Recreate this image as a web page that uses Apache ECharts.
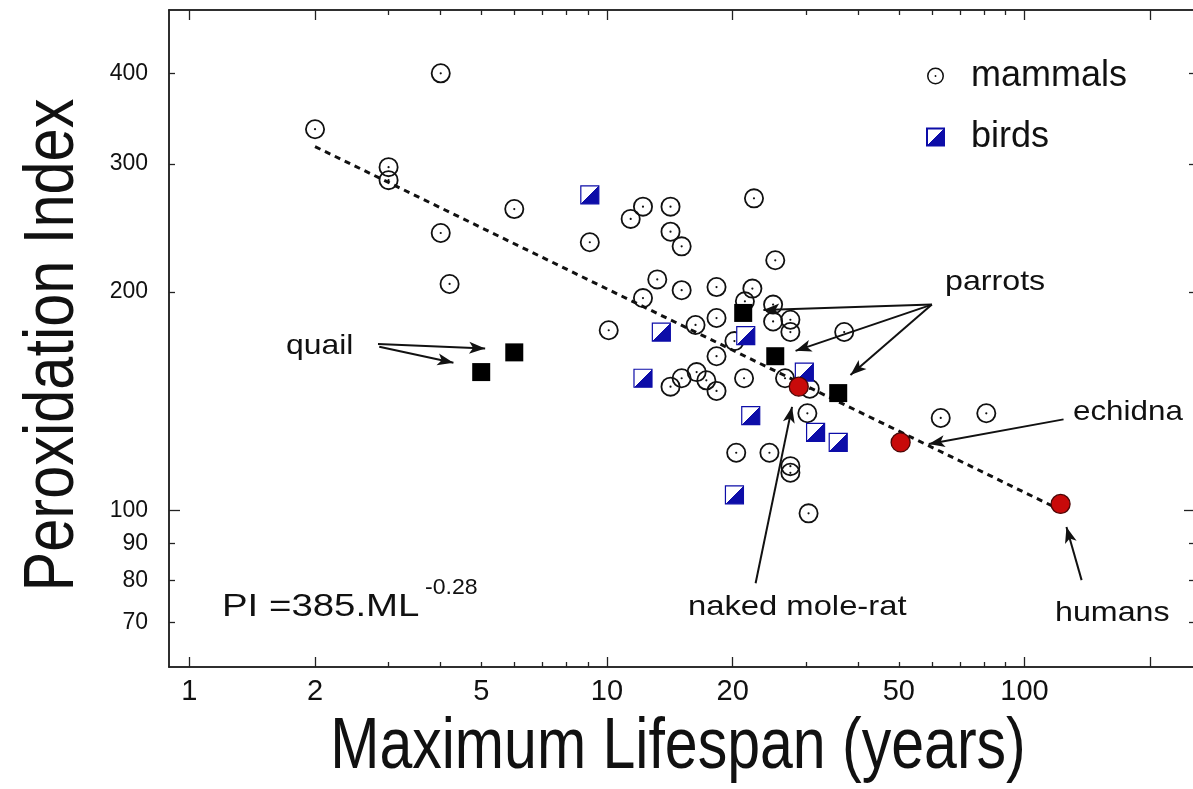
<!DOCTYPE html>
<html>
<head>
<meta charset="utf-8">
<script src="https://cdn.jsdelivr.net/npm/echarts@6/dist/echarts.min.js"></script>
<style>
  html, body { margin: 0; padding: 0; background: #fff; }
  #chart { width: 1193px; height: 789px; }
</style>
</head>
<body>
<div id="chart"></div>
<script>
// Peroxidation index vs maximum lifespan, log-log

const mammalLifespan = [4, 2, 3, 3, 6, 4, 4.2, 9.1, 12.2, 11.4, 14.2, 14.2, 15.1, 22.5, 25.3,
  13.2, 12.2, 15.1, 18.3, 22.3, 21.4, 25, 27.5, 25, 27.5, 18.3, 16.3, 10.1, 37, 20.2,
  18.3, 14.2, 15.1, 16.4, 17.3, 18.3, 21.3, 26.7, 30.6, 30.2, 20.4, 24.5, 27.5, 27.5, 30.4, 63, 81];
const mammalPI = [400, 335, 297, 285, 260, 241, 205, 234, 262, 252, 262, 242, 231, 269, 221,
  208, 196, 201, 203, 202, 194, 192, 183, 182, 176, 184, 180, 177, 176, 171,
  163, 148, 152, 155, 151, 146, 152, 152, 147, 136, 120, 120, 115, 112.6, 99, 134, 136];

const birdLifespan = [9.1, 13.5, 21.5, 12.2, 29.7, 22.1, 31.6, 35.8, 20.2];
const birdPI = [272, 176, 174, 152, 155, 135, 128, 124, 105];

// quail (2) and parrots (3)
const squareLifespan = [6, 5, 21.2, 25.3, 35.8];
const squarePI = [165, 155, 187, 163, 145];

const redNames = ['naked mole-rat', 'echidna', 'humans'];
const redLifespan = [28.8, 50.5, 122];
const redPI = [148, 124, 102];

const fitLifespan = [2, 118];
const fitPI = [317, 101];

const xLabelValues = [1, 2, 5, 10, 20, 50, 100];
const xMajorTicks = [1, 2, 10, 20, 100, 200];
const xMinorTicks = [3, 4, 5, 6, 7, 8, 9, 30, 40, 50, 60, 70, 80, 90];
const yLabelValues = [70, 80, 90, 100, 200, 300, 400];
const yMajorTicks = [100];
const yMinorTicks = [70, 80, 90, 200, 300, 400];

// annotation arrows [fromLifespan, fromPI, toLifespan, toPI]
const arrows = [
  [2.83, 169.4, 5.11, 167.1],
  [2.85, 168.0, 4.29, 159.7],
  [60, 192, 23.7, 188.7],
  [60, 192, 28.3, 165.8],
  [60, 192, 38.3, 153.6],
  [124, 133.4, 59, 123.4],
  [22.7, 79.3, 27.75, 138.8],
  [137, 80.1, 126, 94.8]
];

const X_MIN = 0.894, X_MAX = 256;
const Y_MIN = 60.8, Y_MAX = 489;
const FONT = '"Liberation Sans", Arial, Helvetica, sans-serif';
const NARROW = '"Liberation Sans Narrow", "Arial Narrow", "Liberation Sans", sans-serif';
const INK = '#111111';
const BLUE = '#0d0da8';

const MAMMAL_PATH = 'path://M0,-10A10,10,0,1,1,0,10A10,10,0,1,1,0,-10Z' +
  'M0,-8.2A8.2,8.2,0,1,0,0,8.2A8.2,8.2,0,1,0,0,-8.2Z' +
  'M0,-1.1A1.1,1.1,0,1,1,0,1.1A1.1,1.1,0,1,1,0,-1.1Z';

const pts = (xs, ys) => xs.map((x, i) => [x, ys[i]]);

function xAxisOf(grid, position, ticks, len, labels) {
  return {
    type: 'log', logBase: 10, gridIndex: grid, position: position,
    min: X_MIN, max: X_MAX,
    axisLine: { show: true, onZero: false, lineStyle: { color: '#222', width: 1.5 } },
    axisTick: { show: true, inside: true, length: len, customValues: ticks,
      lineStyle: { color: '#222', width: 1.3 } },
    axisLabel: labels
      ? { show: true, customValues: labels, color: INK, fontFamily: NARROW, fontSize: 29, margin: 10,
          formatter: (v) => String(v) }
      : { show: false },
    splitLine: { show: false },
    minorTick: { show: false }
  };
}

function yAxisOf(grid, position, ticks, len, labels) {
  return {
    type: 'log', logBase: 10, gridIndex: grid, position: position,
    min: Y_MIN, max: Y_MAX,
    axisLine: { show: true, onZero: false, lineStyle: { color: '#222', width: 1.5 } },
    axisTick: { show: true, inside: true, length: len, customValues: ticks,
      lineStyle: { color: '#222', width: 1.3 } },
    axisLabel: labels
      ? { show: true, customValues: labels, color: INK, fontFamily: FONT, fontSize: 23, margin: 21,
          formatter: (v) => String(v) }
      : { show: false },
    splitLine: { show: false },
    minorTick: { show: false }
  };
}

const gridBox = { left: 169, top: 10, right: -2, bottom: 122, containLabel: false, outerBoundsMode: 'none' };

const birdFill = new echarts.graphic.LinearGradient(0, 0, 1, 1, [
  { offset: 0, color: '#ffffff' },
  { offset: 0.5, color: '#ffffff' },
  { offset: 0.5, color: BLUE },
  { offset: 1, color: BLUE }
]);

function note(text, x, y, size, sx) {
  return {
    type: 'text', x: x, y: y, scaleX: sx || 1, silent: true,
    style: { text: text, fill: INK, font: size + 'px ' + FONT, textAlign: 'left', textVerticalAlign: 'middle' }
  };
}

const chart = echarts.init(document.getElementById('chart'), null, { renderer: 'canvas' });

chart.setOption({
  backgroundColor: '#ffffff',
  animation: false,
  grid: [gridBox, Object.assign({}, gridBox)],
  xAxis: [
    xAxisOf(0, 'bottom', xMajorTicks, 10, xLabelValues),
    xAxisOf(0, 'top', xMajorTicks, 10, null),
    xAxisOf(1, 'bottom', xMinorTicks, 5, null),
    xAxisOf(1, 'top', xMinorTicks, 5, null)
  ],
  yAxis: [
    yAxisOf(0, 'left', yMajorTicks, 11, yLabelValues),
    yAxisOf(0, 'right', yMajorTicks, 11, null),
    yAxisOf(1, 'left', yMinorTicks, 6, null),
    yAxisOf(1, 'right', yMinorTicks, 6, null)
  ],
  legend: {
    data: [{ name: 'mammals', icon: MAMMAL_PATH }, { name: 'birds', icon: 'rect' }],
    orient: 'vertical',
    left: 926, top: 58,
    padding: 0,
    itemWidth: 17, itemHeight: 17,
    itemGap: 25,
    selectedMode: false,
    textStyle: { color: INK, fontFamily: FONT, fontSize: 36, lineHeight: 34, padding: [0, 0, 0, 22] }
  },
  graphic: [
    {
      type: 'text', x: 54, y: 345, rotation: Math.PI / 2, scaleX: 0.85, silent: true,
      style: { text: 'Peroxidation Index', fill: INK, font: '70px ' + FONT, textAlign: 'center', textVerticalAlign: 'middle' }
    },
    {
      type: 'text', x: 678, y: 748, scaleX: 0.82, silent: true,
      style: { text: 'Maximum Lifespan (years)', fill: INK, font: '72px ' + FONT, textAlign: 'center', textVerticalAlign: 'middle' }
    },
    note('quail', 286, 346, 28, 1.14),
    note('parrots', 945, 282, 28, 1.15),
    note('echidna', 1073, 412, 28, 1.12),
    note('naked mole-rat', 688, 607, 28, 1.17),
    note('humans', 1055, 613, 28, 1.15),
    note('PI =385.ML', 222, 607, 32, 1.2),
    note('-0.28', 425, 588, 22, 1.05)
  ],
  series: [
    {
      name: 'fit', type: 'line', xAxisIndex: 0, yAxisIndex: 0,
      data: pts(fitLifespan, fitPI),
      symbol: 'none', silent: true, z: 1,
      lineStyle: { color: INK, width: 3, type: [6, 5] },
      markLine: {
        silent: true, animation: false,
        symbol: ['none', 'arrow'], symbolSize: [9, 16],
        label: { show: false },
        emphasis: { disabled: true },
        lineStyle: { color: INK, width: 2, type: 'solid', opacity: 1 },
        data: arrows.map(a => [{ coord: [a[0], a[1]] }, { coord: [a[2], a[3]] }])
      }
    },
    {
      name: 'mammals', type: 'scatter', xAxisIndex: 0, yAxisIndex: 0,
      data: pts(mammalLifespan, mammalPI),
      symbol: MAMMAL_PATH, symbolSize: 20, z: 2,
      itemStyle: { color: INK, opacity: 1 },
      emphasis: { disabled: true }
    },
    {
      name: 'birds', type: 'scatter', xAxisIndex: 0, yAxisIndex: 0,
      data: pts(birdLifespan, birdPI),
      symbol: 'rect', symbolSize: 18, z: 3,
      itemStyle: { color: birdFill, borderColor: BLUE, borderWidth: 1.2, opacity: 1 },
      emphasis: { disabled: true }
    },
    {
      name: 'quail and parrots', type: 'scatter', xAxisIndex: 0, yAxisIndex: 0,
      data: pts(squareLifespan, squarePI),
      symbol: 'rect', symbolSize: 18, z: 4,
      itemStyle: { color: '#000', opacity: 1 },
      emphasis: { disabled: true }
    },
    {
      name: 'highlighted', type: 'scatter', xAxisIndex: 0, yAxisIndex: 0,
      data: redNames.map((n, i) => ({ name: n, value: [redLifespan[i], redPI[i]] })),
      symbol: 'circle', symbolSize: 19, z: 5,
      itemStyle: { color: '#c80a0a', borderColor: '#4a0606', borderWidth: 1.3, opacity: 1 },
      emphasis: { disabled: true }
    }
  ]
});
</script>
</body>
</html>
